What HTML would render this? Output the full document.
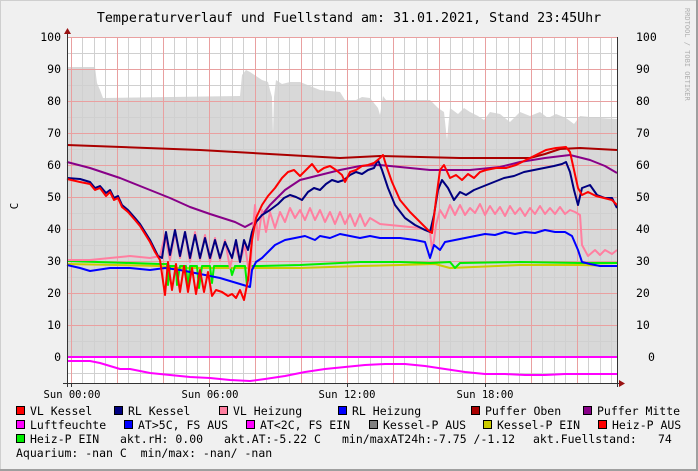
<!DOCTYPE html>
<html><head><meta charset="utf-8"><style>
html,body{margin:0;padding:0;background:#f0f0f0;}
svg{display:block;}
text{font-family:"DejaVu Sans Mono","Liberation Mono",monospace;fill:#000;white-space:pre;}
</style></head><body>
<svg width="698" height="471" viewBox="0 0 698 471" xmlns="http://www.w3.org/2000/svg">
<rect x="0" y="0" width="698" height="471" fill="#f0f0f0"/>
<rect x="0.5" y="0.5" width="697" height="470" fill="none" stroke="#cfcfcf"/>
<line x1="697" y1="0" x2="697" y2="471" stroke="#9f9f9f" stroke-width="2"/>
<line x1="0" y1="470" x2="698" y2="470" stroke="#9f9f9f" stroke-width="2"/>
<text x="349" y="22" font-size="13.3" text-anchor="middle">Temperaturverlauf und Fuellstand am: 31.01.2021, Stand 23:45Uhr</text>
<rect x="67" y="37" width="550" height="346" fill="#fff"/>
<polygon fill="#d8d8d8" points="67,357 67,67 95,67 97,83 100,90 103,98 240,96 242,75 246,70 250,72 256,76 262,80 268,82 270,90 272,97 273,135 274,97 276,80 282,84 290,82 300,82 310,86 320,90 340,92 345,100 356,100 362,97 370,98 378,108 380,115 383,96 386,100 420,100 430,100 438,108 444,112 447,140 450,108 458,114 464,108 470,112 478,116 484,120 490,112 500,114 510,122 520,112 530,116 540,112 548,118 556,114 566,118 574,124 580,116 600,118 617,119 617,357"/>
<g stroke="#d0d0d0" stroke-width="1">
<path d="M67.5 53.5H617M67.5 85.5H617M67.5 117.5H617M67.5 149.5H617M67.5 181.5H617M67.5 213.5H617M67.5 245.5H617M67.5 277.5H617M67.5 309.5H617M67.5 341.5H617M67.5 373.5H617"/>
<path d="M82.5 37V383M94.5 37V383M105.5 37V383M128.5 37V383M140.5 37V383M151.5 37V383M174.5 37V383M186.5 37V383M197.5 37V383M220.5 37V383M232.5 37V383M243.5 37V383M266.5 37V383M278.5 37V383M289.5 37V383M312.5 37V383M324.5 37V383M335.5 37V383M358.5 37V383M370.5 37V383M381.5 37V383M404.5 37V383M416.5 37V383M427.5 37V383M450.5 37V383M462.5 37V383M473.5 37V383M496.5 37V383M508.5 37V383M519.5 37V383M542.5 37V383M554.5 37V383M565.5 37V383M588.5 37V383M600.5 37V383M611.5 37V383"/>
</g>
<g stroke="#e9a0a0" stroke-width="1">
<path d="M67 37.5H617M67 69.5H617M67 101.5H617M67 133.5H617M67 165.5H617M67 197.5H617M67 229.5H617M67 261.5H617M67 293.5H617M67 325.5H617"/>
<path d="M71.5 37V383M117.5 37V383M163.5 37V383M209.5 37V383M255.5 37V383M301.5 37V383M347.5 37V383M393.5 37V383M439.5 37V383M485.5 37V383M531.5 37V383M577.5 37V383"/>
</g>
<g fill="none" stroke-width="2" stroke-linejoin="round">
<polyline stroke="#aa0000" points="67,145 200,150 340,158 380,156 460,158 530,158 545,154 560,149 580,148 617,150"/>
<polyline stroke="#880088" points="67,162 90,168 120,178 150,190 170,198 190,207 210,214 235,222 245,227 258,220 270,205 285,190 300,180 320,175 340,170 360,166 380,165 400,167 430,170 470,170 500,167 520,162 545,158 570,155 590,160 605,166 617,173"/>
<polyline stroke="#cccc00" points="67,264 160,266 175,268 250,268 300,268 360,266 400,265 435,264 450,268 520,265 580,265 617,266"/>
<polyline stroke="#00ee00" points="67,261 160,264 167,264 168,285 170,266 176,266 177,285 180,266 186,266 188,290 190,266 197,266 199,288 202,266 210,266 212,283 214,266 230,266 232,275 235,266 245,266 247,285 250,266 260,266 300,265 360,262 400,262 430,263 450,262 455,268 460,263 520,262 580,263 617,263"/>
<polyline stroke="#ff7fa0" points="67,260 90,260 110,258 130,256 150,258 160,256 165,235 170,260 175,232 180,258 185,232 190,262 195,232 200,260 205,235 210,262 215,238 220,260 225,240 230,268 235,245 240,262 245,245 250,280 252,240 255,205 258,240 262,210 266,232 270,212 275,228 280,212 285,222 290,208 295,218 300,210 305,220 310,208 315,220 320,210 325,222 330,212 335,224 340,212 345,224 350,214 355,226 360,214 365,226 370,218 380,224 400,226 420,228 430,232 432,250 434,240 436,225 440,210 445,218 450,205 455,215 460,205 465,215 470,208 475,213 480,204 485,215 490,206 495,214 500,207 505,216 510,206 515,214 520,208 525,216 530,208 535,214 540,206 545,214 550,208 555,214 560,207 565,214 570,210 575,212 580,215 582,245 588,256 595,250 600,255 605,250 612,254 617,250"/>
<polyline stroke="#0000ff" points="67,265 80,268 90,271 110,268 130,268 150,270 165,268 180,270 200,274 220,278 240,284 250,287 252,270 256,262 262,258 268,252 275,245 285,240 295,238 305,236 315,240 320,236 330,238 340,234 350,236 360,238 370,236 380,238 400,238 415,240 425,242 430,258 434,245 440,250 445,242 455,240 465,238 475,236 485,234 495,235 505,232 515,234 525,232 535,233 545,230 555,232 565,232 572,236 578,250 582,262 590,264 600,266 610,266 617,266"/>
<polyline stroke="#000080" points="67,178 80,179 90,182 95,188 100,186 106,193 110,190 114,198 118,196 122,205 128,210 135,218 140,224 145,232 150,240 155,250 158,256 162,258 166,232 170,255 175,230 180,256 185,232 190,258 195,235 200,258 205,238 210,258 215,240 220,258 225,242 232,258 236,240 240,262 244,240 248,250 252,232 256,222 262,215 270,210 278,204 284,198 290,195 296,197 302,200 308,192 314,188 320,190 326,184 332,180 338,182 344,180 350,175 356,172 362,174 368,170 374,168 378,160 382,170 388,188 395,205 405,218 415,225 425,230 430,232 434,215 438,190 442,180 448,188 454,200 460,192 466,195 474,190 484,186 494,182 504,178 514,176 524,172 534,170 544,168 554,166 562,164 566,162 570,172 574,190 578,205 582,188 590,185 597,195 605,198 612,198 617,208"/>
<polyline stroke="#ff0000" points="67,179 80,182 90,184 95,190 100,188 106,196 110,192 114,200 118,198 122,207 128,212 135,220 140,226 145,234 150,242 155,252 160,260 165,295 168,262 172,290 176,264 180,292 184,266 188,292 192,268 196,294 200,270 204,292 208,272 212,296 216,290 222,292 228,296 232,294 236,298 240,290 244,300 248,280 252,240 256,218 262,205 268,196 275,188 282,178 288,172 294,170 300,176 306,170 312,164 318,172 324,168 330,166 336,170 342,175 345,182 350,172 356,170 362,166 368,165 374,163 380,158 383,155 386,165 392,182 400,200 410,212 420,222 428,230 432,233 436,200 440,170 444,165 450,178 456,175 462,180 468,174 474,178 480,172 486,170 496,168 506,168 516,165 526,160 536,155 546,150 556,148 566,147 570,152 574,170 578,188 582,195 588,192 596,196 604,198 612,200 617,205"/>
<line x1="67" y1="357" x2="617" y2="357" stroke="#ff00ff" stroke-width="2"/>
<polyline stroke="#ff00ff" points="67,361 90,361 100,363 110,366 120,369 130,369 140,371 150,373 170,375 190,377 210,378 230,380 250,381 265,379 285,376 305,372 325,369 345,367 365,365 385,364 405,364 425,366 445,369 465,372 485,374 505,374 525,375 545,375 565,374 585,374 605,374 617,374"/>
</g>
<line x1="67.5" y1="30" x2="67.5" y2="387" stroke="#333" stroke-width="1"/>
<line x1="617.5" y1="37" x2="617.5" y2="387" stroke="#333" stroke-width="1"/>
<line x1="63" y1="383.5" x2="622" y2="383.5" stroke="#333" stroke-width="1"/>
<polygon points="64,34 67.5,28 71,34" fill="#991111"/>
<polygon points="619,380 625,383.5 619,387" fill="#991111"/>
<g stroke="#333"><path d="M71.5 383V387M209.5 383V387M347.5 383V387M485.5 383V387"/></g>
<g font-size="11.5" text-anchor="end">
<text x="61" y="41">100</text><text x="61" y="73">90</text><text x="61" y="105">80</text><text x="61" y="137">70</text><text x="61" y="169">60</text><text x="61" y="201">50</text><text x="61" y="233">40</text><text x="61" y="265">30</text><text x="61" y="297">20</text><text x="61" y="329">10</text><text x="61" y="361">0</text>
</g>
<g font-size="11.5">
<text x="636" y="41">100</text><text x="636" y="73">90</text><text x="636" y="105">80</text><text x="636" y="137">70</text><text x="636" y="169">60</text><text x="636" y="201">50</text><text x="636" y="233">40</text><text x="636" y="265">30</text><text x="636" y="297">20</text><text x="636" y="329">10</text><text x="648" y="361">0</text>
</g>
<g font-size="10.5" text-anchor="middle">
<text x="72" y="398">Sun 00:00</text><text x="210" y="398">Sun 06:00</text><text x="347" y="398">Sun 12:00</text><text x="485" y="398">Sun 18:00</text>
</g>
<text x="18" y="206" font-size="11" transform="rotate(-90 18 206)" text-anchor="middle">C</text>
<text x="685" y="8" font-size="7" style="fill:#b0b0b0" transform="rotate(90 685 8)">RRDTOOL / TOBI OETIKER</text>
<g stroke="#000" stroke-width="1">
<rect x="16.5" y="406.5" width="8" height="8" fill="#ff0000"/>
<rect x="114.5" y="406.5" width="8" height="8" fill="#000080"/>
<rect x="219.5" y="406.5" width="8" height="8" fill="#ff7fa0"/>
<rect x="338.5" y="406.5" width="8" height="8" fill="#0000ff"/>
<rect x="471.5" y="406.5" width="8" height="8" fill="#aa0000"/>
<rect x="583.5" y="406.5" width="8" height="8" fill="#880088"/>
<rect x="16.5" y="420.5" width="8" height="8" fill="#ff00ff"/>
<rect x="124.5" y="420.5" width="8" height="8" fill="#0000ff"/>
<rect x="246.5" y="420.5" width="8" height="8" fill="#ff00ff"/>
<rect x="369.5" y="420.5" width="8" height="8" fill="#808080"/>
<rect x="483.5" y="420.5" width="8" height="8" fill="#cccc00"/>
<rect x="598.5" y="420.5" width="8" height="8" fill="#ff0000"/>
<rect x="16.5" y="434.5" width="8" height="8" fill="#00ee00"/>
</g>
<g font-size="11.5">
<text x="30" y="415">VL Kessel</text><text x="128" y="415">RL Kessel</text><text x="233" y="415">VL Heizung</text><text x="352" y="415">RL Heizung</text><text x="485" y="415">Puffer Oben</text><text x="597" y="415">Puffer Mitte</text>
<text x="30" y="429">Luftfeuchte</text><text x="138" y="429">AT&gt;5C, FS AUS</text><text x="260" y="429">AT&lt;2C, FS EIN</text><text x="383" y="429">Kessel-P AUS</text><text x="497" y="429">Kessel-P EIN</text><text x="612" y="429">Heiz-P AUS</text>
<text x="30" y="443">Heiz-P EIN</text><text x="120" y="443">akt.rH: 0.00</text><text x="224" y="443">akt.AT:-5.22 C</text><text x="342" y="443">min/maxAT24h:-7.75 /-1.12</text><text x="533" y="443">akt.Fuellstand:</text><text x="658" y="443">74</text>
<text x="16" y="457">Aquarium: -nan C  min/max: -nan/ -nan</text>
</g>
</svg>
</body></html>
